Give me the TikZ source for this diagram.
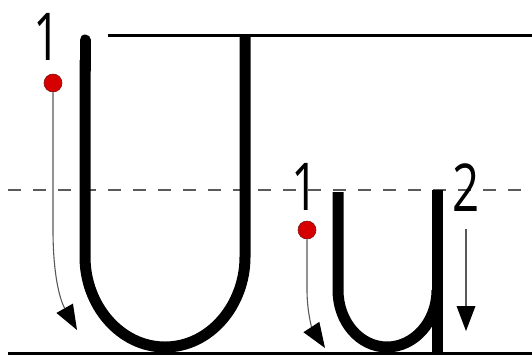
\documentclass[tikz,border=0pt]{standalone}
\usepackage{fontspec}
\setmainfont{Open Sans}
\usepackage{tikz}
\usetikzlibrary{arrows.meta}
\definecolor{dotfill}{RGB}{214,0,0}
\definecolor{dotborder}{RGB}{130,20,20}
\definecolor{guidegray}{RGB}{90,90,90}
\tikzset{
  ruleline/.style={line width=3pt, draw=black},
  midline/.style={line width=1.4pt, draw=guidegray, dash pattern=on 13pt off 12pt},
  letterstroke/.style={line width=11pt, draw=black, line cap=butt},
  strokearrow/.style={-{Triangle[length=25pt,width=19pt,fill=black,line width=0pt]}, line width=1.1pt, draw=black!65},
  startdot/.style={circle, fill=dotfill, draw=dotborder, line width=0.6pt, minimum size=18pt, inner sep=0pt},
  stepnum/.style={font=\fontsize{66}{66}\selectfont, inner sep=0pt, xscale=0.72, text=black}
}
\begin{document}
\begin{tikzpicture}[x=1pt, y=-1pt]
  \useasboundingbox (0,0) rectangle (532,360);
  % writing lines
  \draw[ruleline] (108,35) -- (532,35);
  \draw[midline] (8,190) -- (532,190);
  \draw[ruleline] (8,353) -- (532,353);
  % capital U
  \draw[letterstroke] (85,60) -- (85,257) .. controls (85,305) and (120,347) .. (165,347)
    .. controls (210,347) and (245,305) .. (245,257) -- (245,35);
  \draw[letterstroke, line cap=round] (85,40) -- (85,70);
  % small u
  \draw[letterstroke] (338,192) -- (338,290) .. controls (338,322) and (360,347) .. (387,347)
    .. controls (414,347) and (437,322) .. (437,290);
  \draw[letterstroke] (437,190) -- (437,353);
  % start points and numbers
  \node[stepnum] (num1U) at (47,37) {1};
  \node[startdot] (dotU) at (53,83) {};
  \node[stepnum] (num1u) at (305,187) {1};
  \node[startdot] (dotu) at (307,230) {};
  \node[stepnum] (num2u) at (466,188) {2};
  \coordinate (endU) at (77,330);
  \coordinate (endu) at (325,348);
  \coordinate (top2u) at (466,229);
  \coordinate (end2u) at (466,331);
  % direction arrows
  \draw[strokearrow] (dotU.south) -- (53,230) .. controls (53,275) and (60,300) .. (endU);
  \draw[strokearrow] (dotu.south) -- (307,290) .. controls (307,312) and (312,328) .. (endu);
  \draw[strokearrow] (top2u) -- (end2u);
\end{tikzpicture}
\end{document}
